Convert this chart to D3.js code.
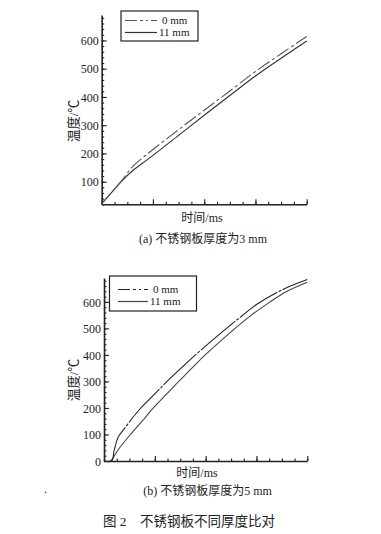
<!DOCTYPE html>
<html><head><meta charset="utf-8">
<script src="https://cdn.jsdelivr.net/npm/d3@7"></script>
<style>
body{margin:0;background:#fff;}
svg text{font-family:"Liberation Serif","Noto Sans CJK SC",serif;fill:#222;}
</style></head>
<body><svg id="c" width="381" height="534"></svg>
<script>
// ---- data ----
const seriesNames = ["0 mm", "11 mm"];
const xMajorTicks = [0, 1, 2, 3, 4];
const yTickLabelsA = [100, 200, 300, 400, 500, 600];
const yTickLabelsB = [0, 100, 200, 300, 400, 500, 600];

// chart (a): 3 mm plate
const tA0 = [0, 0.2, 0.39, 0.585, 0.8, 1, 1.5, 2, 2.5, 3, 3.5, 4];
const vA0 = [22, 64, 104, 150, 185, 214, 284, 353, 421, 490, 553, 614];
const tA11 = [0, 0.2, 0.39, 0.585, 0.8, 1, 1.5, 2, 2.5, 3, 3.5, 4];
const vA11 = [22, 63, 102, 136, 166, 193, 264, 335, 405, 474, 537, 598];

// chart (b): 5 mm plate
const tB0 = [0, 0.15, 0.2, 0.28, 0.4, 0.71, 1.0, 1.23, 1.5, 1.8, 2.1, 2.41, 2.7, 3.0, 3.5, 4.0];
const vB0 = [0, 0, 40, 90, 122, 197, 253, 298, 347, 400, 450, 500, 545, 590, 645, 684];
const tB11 = [0, 0.12, 0.3, 0.51, 0.75, 0.97, 1.22, 1.47, 1.73, 1.99, 2.28, 2.58, 2.9, 3.27, 3.6, 4.0];
const vB11 = [0, 0, 48, 98, 150, 200, 250, 300, 350, 400, 450, 500, 550, 600, 640, 674];

const svg = d3.select("#c");

function drawChart(cfg) {
  const x = d3.scaleLinear().domain([0, 4]).range([cfg.x0, cfg.x1]);
  const y = d3.scaleLinear().domain(cfg.yDom).range([cfg.y0, cfg.y1]);
  const g = svg.append("g");

  // minor ticks
  const xMinor = d3.range(0, 4.001, 0.25);
  const yMinor = d3.range(cfg.yDom[0], cfg.yDom[1] + 0.1, 20);
  g.append("g").attr("transform", `translate(0,${cfg.y0})`)
    .call(d3.axisBottom(x).tickValues(xMinor).tickSize(-2.5).tickSizeOuter(0).tickFormat(""))
    .call(s => s.select(".domain").remove());
  g.append("g").attr("transform", `translate(${cfg.x0},0)`)
    .call(d3.axisLeft(y).tickValues(yMinor).tickSize(-2.5).tickSizeOuter(0).tickFormat(""))
    .call(s => s.select(".domain").remove());

  // major axes
  g.append("g").attr("transform", `translate(0,${cfg.y0})`)
    .call(d3.axisBottom(x).tickValues(xMajorTicks).tickSize(-5).tickSizeOuter(0).tickFormat(""));
  const ya = g.append("g").attr("transform", `translate(${cfg.x0},0)`)
    .call(d3.axisLeft(y).tickValues(cfg.yLabels).tickSize(-5).tickSizeOuter(0).tickPadding(3).tickFormat(d3.format("d")));
  ya.selectAll("text").style("font-size", "12px").attr("dy", "0.35em").style("fill", "#222");
  g.selectAll(".domain").attr("stroke", "#222").attr("stroke-width", 1.6);
  g.selectAll(".tick line").attr("stroke", "#222").attr("stroke-width", 1.1);

  // curves
  const line = d3.line().x(d => x(d[0])).y(d => y(d[1])).curve(d3.curveCatmullRom.alpha(0.5));
  const d0 = cfg.t0.map((t, i) => [t, cfg.v0[i]]);
  const d11 = cfg.t11.map((t, i) => [t, cfg.v11[i]]);
  g.append("path").datum(d11).attr("d", line).attr("fill", "none")
    .attr("stroke", cfg.c11).attr("stroke-width", 1.1);
  g.append("path").datum(d0).attr("d", line).attr("fill", "none")
    .attr("stroke", cfg.c0).attr("stroke-width", 1.1).attr("stroke-dasharray", cfg.dash0);

  // legend
  const L = cfg.leg;
  g.append("rect").attr("x", L.x).attr("y", L.y).attr("width", L.w).attr("height", L.h)
    .attr("fill", "#fff").attr("stroke", "#222").attr("stroke-width", 1.2);
  const rows = [{name: seriesNames[0], c: cfg.c0, dash: "12,3,3,3,2,3"}, {name: seriesNames[1], c: cfg.c11, dash: null}];
  rows.forEach((r, i) => {
    const yy = L.r0 + i * L.dr;
    g.append("line").attr("x1", L.lx0).attr("x2", L.lx1).attr("y1", yy).attr("y2", yy)
      .attr("stroke", r.c).attr("stroke-width", 1.2).attr("stroke-dasharray", r.dash);
    g.append("text").attr("x", L.tx + (i === 0 ? 3 : 0)).attr("y", yy).attr("dy", "0.35em")
      .style("font-size", "11px").text(r.name);
  });

  // labels
  g.append("text").attr("transform", `translate(${cfg.ylx},${cfg.yly}) rotate(-90)`)
    .attr("text-anchor", "middle").attr("dy", "0.35em").style("font-size", "13px").text("温度/℃");
  g.append("text").attr("x", cfg.xlx).attr("y", cfg.xly).attr("text-anchor", "middle")
    .attr("dy", "0.35em").style("font-size", "12px").text("时间/ms");
  g.append("text").attr("x", cfg.capx).attr("y", cfg.capy).attr("text-anchor", "middle")
    .attr("dy", "0.35em").style("font-size", "12px").text(cfg.caption);
}

drawChart({
  x0: 101.7, x1: 306.7, y0: 204.3, y1: 15, yDom: [20, 690], yLabels: yTickLabelsA,
  t0: tA0, v0: vA0, t11: tA11, v11: vA11, c0: "#555", c11: "#333", dash0: "14,3,3,3",
  leg: {x: 121, y: 11, w: 77, h: 30, r0: 20.5, dr: 12, lx0: 125, lx1: 157, tx: 159},
  ylx: 73, yly: 121, xlx: 202, xly: 218, capx: 203, capy: 238.5,
  caption: "(a)  不锈钢板厚度为3 mm"
});

drawChart({
  x0: 104, x1: 307.3, y0: 461, y1: 278, yDom: [0, 690], yLabels: yTickLabelsB,
  t0: tB0, v0: vB0, t11: tB11, v11: vB11, c0: "#222", c11: "#444", dash0: "45,1.5,3,1.5",
  leg: {x: 109.5, y: 276, w: 87, h: 35, r0: 289.5, dr: 12, lx0: 118, lx1: 148, tx: 150},
  ylx: 73, yly: 380, xlx: 197, xly: 473, capx: 207.5, capy: 490.7,
  caption: "(b) 不锈钢板厚度为5 mm"
});

svg.append("text").attr("x", 44).attr("y", 493).style("font-size", "12px").text(".");
svg.append("text").attr("x", 103).attr("y", 521.7).attr("dy", "0.35em").style("font-size", "13.5px").text("图 2");
svg.append("text").attr("x", 140).attr("y", 521.7).attr("dy", "0.35em").style("font-size", "13.5px").text("不锈钢板不同厚度比对");
</script></body></html>
